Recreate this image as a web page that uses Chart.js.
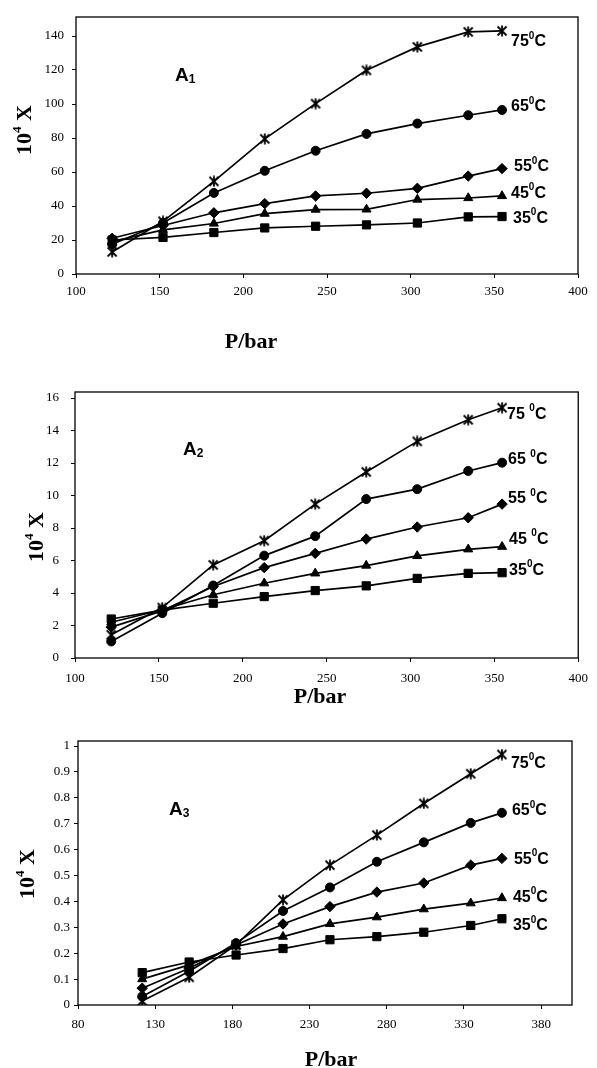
<!DOCTYPE html>
<html>
<head>
<meta charset="utf-8">
<script src="https://cdn.jsdelivr.net/npm/chart.js@4.4.1/dist/chart.umd.min.js"></script>
<style>
  html, body { margin: 0; padding: 0; background: #fff; }
  body { width: 597px; height: 1068px; position: relative; overflow: hidden; }
  canvas { position: absolute; left: 0; top: 0; }
</style>
</head>
<body>
<canvas id="c1" width="597" height="1068"></canvas>
<canvas id="c2" width="597" height="1068"></canvas>
<canvas id="c3" width="597" height="1068"></canvas>
<script>
// ---------- data ----------
const pressure = [121.6, 152, 182.4, 212.8, 243.2, 273.6, 304, 334.4, 354.6];
const temps = ['75', '65', '55', '45', '35'];

// Panel A1
const a1_75 = [13, 31, 54.5, 79.5, 100.2, 119.8, 133.6, 142.4, 143];
const a1_65 = [17.5, 30, 47.7, 60.7, 72.5, 82.4, 88.5, 93.4, 96.5];
const a1_55 = [21, 28.5, 36, 41.4, 45.9, 47.5, 50.4, 57.6, 62];
const a1_45 = [19, 26, 29.7, 35.5, 37.9, 38, 43.8, 44.7, 45.9];
const a1_35 = [20, 21.5, 24.4, 27.1, 28.1, 28.9, 30, 33.6, 33.8];
const a1_xTicks = [100, 150, 200, 250, 300, 350, 400];
const a1_yTicks = [0, 20, 40, 60, 80, 100, 120, 140];
const a1_labelY = [136.5, 98.3, 63, 47.4, 32.7];

// Panel A2
const a2_75 = [1.43, 3.1, 5.73, 7.22, 9.47, 11.45, 13.33, 14.66, 15.4];
const a2_65 = [1.02, 2.76, 4.46, 6.3, 7.5, 9.78, 10.39, 11.51, 12.02];
const a2_55 = [1.9, 2.9, 4.4, 5.56, 6.44, 7.32, 8.06, 8.63, 9.47];
const a2_45 = [2.2, 2.97, 3.89, 4.6, 5.21, 5.69, 6.28, 6.69, 6.85];
const a2_35 = [2.4, 2.95, 3.37, 3.78, 4.15, 4.44, 4.9, 5.21, 5.25];
const a2_xTicks = [100, 150, 200, 250, 300, 350, 400];
const a2_yTicks = [0, 2, 4, 6, 8, 10, 12, 14, 16];
const a2_labelY = [15.0, 12.2, 9.8, 7.3, 5.4];

// Panel A3
const a3_75 = [0.015, 0.107, 0.232, 0.406, 0.54, 0.656, 0.778, 0.893, 0.967];
const a3_65 = [0.033, 0.13, 0.239, 0.363, 0.454, 0.553, 0.628, 0.703, 0.742];
const a3_55 = [0.065, 0.142, 0.232, 0.313, 0.38, 0.436, 0.471, 0.54, 0.566];
const a3_45 = [0.1, 0.155, 0.226, 0.264, 0.313, 0.339, 0.37, 0.393, 0.413];
const a3_35 = [0.125, 0.166, 0.193, 0.218, 0.252, 0.264, 0.281, 0.307, 0.333];
const a3_xTicks = [80, 130, 180, 230, 280, 330, 380];
const a3_yTicks = [0, 0.1, 0.2, 0.3, 0.4, 0.5, 0.6, 0.7, 0.8, 0.9, 1];
const a3_labelY = [0.934, 0.749, 0.563, 0.416, 0.305];

// ---------- styles ----------
const SERIF = '"Liberation Serif", "DejaVu Serif", "Times New Roman", serif';
const SANS = '"Liberation Sans", Arial, "DejaVu Sans", sans-serif';

function starImage() {
  const c = document.createElement('canvas');
  c.width = 12; c.height = 12;
  const g = c.getContext('2d');
  g.strokeStyle = '#000'; g.lineWidth = 1.8; g.lineCap = 'butt';
  g.beginPath();
  g.moveTo(1.5, 1.5); g.lineTo(10.5, 10.5);
  g.moveTo(10.5, 1.5); g.lineTo(1.5, 10.5);
  g.moveTo(6, 0.5); g.lineTo(6, 11.5);
  g.stroke();
  return c;
}
const STAR = starImage();
const markerStyles = [
  { pointStyle: STAR, pointRadius: 6 },
  { pointStyle: 'circle', pointRadius: 4.5 },
  { pointStyle: 'rectRot', pointRadius: 5.2 },
  { pointStyle: 'triangle', pointRadius: 5.2 },
  { pointStyle: 'rect', pointRadius: 5.8 }
];

function drawParts(ctx, parts, x, y) {
  let cx = x;
  for (const p of parts) {
    ctx.font = p.f;
    ctx.fillText(p.t, cx, y + (p.dy || 0));
    cx += ctx.measureText(p.t).width;
  }
  return cx - x;
}
function partsWidth(ctx, parts) {
  let w = 0;
  for (const p of parts) { ctx.font = p.f; w += ctx.measureText(p.t).width; }
  return w;
}

function makePanel(id, cfg) {
  const series = cfg.series;
  const datasets = series.map((vals, i) => ({
    label: temps[i],
    data: pressure.map((p, k) => ({ x: p, y: vals[k] })),
    showLine: true,
    borderColor: '#000',
    borderWidth: 1.7,
    backgroundColor: '#000',
    pointBackgroundColor: '#000',
    pointBorderColor: '#000',
    pointBorderWidth: 1,
    pointStyle: markerStyles[i].pointStyle,
    pointRadius: markerStyles[i].pointRadius,
    tension: 0
  }));

  const annot = {
    id: 'annot' + id,
    afterDraw(chart) {
      const ctx = chart.ctx;
      const a = chart.chartArea;
      const xs = chart.scales.x, ys = chart.scales.y;
      ctx.save();
      // frame
      ctx.strokeStyle = '#000';
      ctx.lineWidth = 1.3;
      ctx.strokeRect(a.left, a.top - cfg.frameTop, a.right - a.left, a.bottom - a.top + cfg.frameTop);
      ctx.fillStyle = '#000';
      ctx.textBaseline = 'middle';
      ctx.textAlign = 'left';
      // panel label A_n
      drawParts(ctx, [
        { t: 'A', f: '600 19px ' + SANS },
        { t: cfg.sub, f: '600 12px ' + SANS, dy: 4 }
      ], cfg.aX, cfg.aY);
      // series labels
      const lastX = xs.getPixelForValue(pressure[pressure.length - 1]);
      temps.forEach((t, i) => {
        const y = ys.getPixelForValue(cfg.labelY[i]);
        const sp = (cfg.spaced && i < 4) ? ' ' : '';
        drawParts(ctx, [
          { t: t + sp, f: 'bold 16px ' + SANS },
          { t: '0', f: 'bold 10px ' + SANS, dy: -6 },
          { t: 'C', f: 'bold 16px ' + SANS }
        ], lastX + cfg.labelDx[i], y);
      });
      // x title
      const xt = [{ t: 'P/bar', f: 'bold 22px ' + SERIF }];
      const xw = partsWidth(ctx, xt);
      drawParts(ctx, xt, cfg.xTitle[0] - xw / 2, cfg.xTitle[1]);
      // y title (rotated)
      const yt = [
        { t: '10', f: 'bold 22px ' + SERIF },
        { t: '4', f: 'bold 13px ' + SERIF, dy: -7 },
        { t: ' X', f: 'bold 22px ' + SERIF }
      ];
      const yw = partsWidth(ctx, yt);
      ctx.translate(cfg.yTitle[0], cfg.yTitle[1]);
      ctx.rotate(-Math.PI / 2);
      drawParts(ctx, yt, -yw / 2, 0);
      ctx.restore();
    }
  };

  const tickFont = { family: SERIF, size: 13 };
  return new Chart(document.getElementById(id), {
    type: 'scatter',
    data: { datasets },
    options: {
      responsive: false,
      animation: false,
      devicePixelRatio: 1,
      layout: { padding: { left: 0, top: cfg.top, right: cfg.right, bottom: cfg.bottom } },
      plugins: { legend: { display: false }, tooltip: { enabled: false } },
      scales: {
        x: {
          type: 'linear', min: cfg.xMin, max: cfg.xMax,
          afterBuildTicks: s => { s.ticks = cfg.xTicks.map(v => ({ value: v })); },
          afterFit: s => { s.height = 30; },
          grid: { display: true, drawOnChartArea: false, drawTicks: true, tickLength: 4, color: '#000', lineWidth: 1 },
          border: { display: false },
          ticks: { font: tickFont, color: '#000', padding: cfg.xPad, maxRotation: 0, autoSkip: false, callback: v => String(v) }
        },
        y: {
          type: 'linear', min: cfg.yMin, max: cfg.yMax,
          afterBuildTicks: s => { s.ticks = cfg.yTicks.map(v => ({ value: v })); },
          afterFit: s => { s.width = cfg.left; },
          grid: { display: true, drawOnChartArea: false, drawTicks: true, tickLength: 4, color: '#000', lineWidth: 1 },
          border: { display: false },
          ticks: { font: tickFont, color: '#000', padding: cfg.yPad, autoSkip: false, callback: v => String(v) }
        }
      }
    },
    plugins: [annot]
  });
}

makePanel('c1', {
  series: [a1_75, a1_65, a1_55, a1_45, a1_35],
  xMin: 100, xMax: 400, yMin: 0, yMax: 150,
  xTicks: a1_xTicks, yTicks: a1_yTicks, labelY: a1_labelY,
  labelDx: [9, 9, 12, 9, 11], spaced: false,
  top: 19, right: 19, bottom: 1068 - 274 - 30, left: 76,
  frameTop: 2, xPad: 6, yPad: 8,
  sub: '1', aX: 175, aY: 76,
  xTitle: [251, 342], yTitle: [25, 130]
});

makePanel('c2', {
  series: [a2_75, a2_65, a2_55, a2_45, a2_35],
  xMin: 100, xMax: 400, yMin: 0, yMax: 16,
  xTicks: a2_xTicks, yTicks: a2_yTicks, labelY: a2_labelY,
  labelDx: [5, 6, 6, 7, 7], spaced: true,
  top: 398, right: 13, bottom: 1068 - 658 - 30, left: 75,
  frameTop: 6, xPad: 9, yPad: 12,
  sub: '2', aX: 183, aY: 450,
  xTitle: [320, 697], yTitle: [37, 537]
});

makePanel('c3', {
  series: [a3_75, a3_65, a3_55, a3_45, a3_35],
  xMin: 80, xMax: 400, yMin: 0, yMax: 1,
  xTicks: a3_xTicks, yTicks: a3_yTicks, labelY: a3_labelY,
  labelDx: [9, 10, 12, 11, 11], spaced: false,
  top: 746, right: 25, bottom: 1068 - 1005 - 30, left: 78,
  frameTop: 5, xPad: 8, yPad: 4,
  sub: '3', aX: 169, aY: 810,
  xTitle: [331, 1060], yTitle: [28, 874]
});
</script>
</body>
</html>
